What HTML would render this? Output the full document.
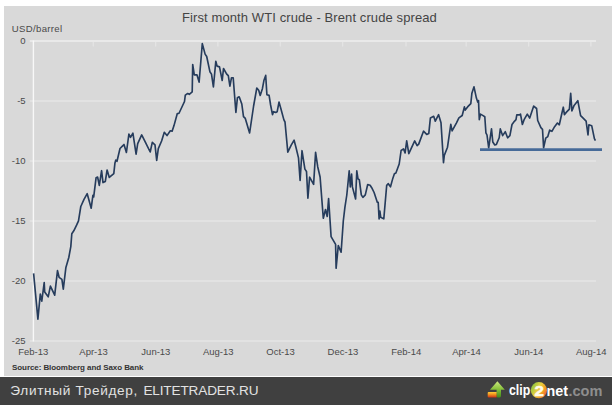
<!DOCTYPE html>
<html><head><meta charset="utf-8">
<style>
html,body{margin:0;padding:0;background:#fff;width:612px;height:405px;overflow:hidden;}
body{position:relative;font-family:"Liberation Sans",sans-serif;}
#panel{position:absolute;left:4px;top:6px;width:608px;height:370px;background:#d9d9d9;}
#foot{position:absolute;left:0;top:377px;width:612px;height:28px;background:#404040;}
svg{position:absolute;left:0;top:0;}
</style></head><body>
<div id="panel"></div>
<div id="foot"></div>
<svg width="612" height="405" viewBox="0 0 612 405">
<defs>
<linearGradient id="ga" x1="0" y1="0" x2="0" y2="1"><stop offset="0" stop-color="#cdea80"/><stop offset="0.45" stop-color="#8cc43e"/><stop offset="1" stop-color="#3f8a1a"/></linearGradient>
<linearGradient id="gb" x1="0" y1="0" x2="0" y2="1"><stop offset="0" stop-color="#ffd23a"/><stop offset="0.5" stop-color="#f08a1c"/><stop offset="1" stop-color="#c8301a"/></linearGradient>
<linearGradient id="gc" x1="0" y1="0.25" x2="1" y2="0.85"><stop offset="0" stop-color="#86c440"/><stop offset="0.4" stop-color="#e8d040"/><stop offset="0.72" stop-color="#f39a22"/><stop offset="1" stop-color="#e4485a"/></linearGradient>
</defs>
<g stroke="#e4e4e4" stroke-width="1.5" fill="none"><line x1="29.8" y1="41" x2="596" y2="41"/><line x1="29.8" y1="101" x2="596" y2="101"/><line x1="29.8" y1="161" x2="596" y2="161"/><line x1="29.8" y1="221" x2="596" y2="221"/><line x1="29.8" y1="281" x2="596" y2="281"/><line x1="29.8" y1="341" x2="596" y2="341"/></g><g stroke="#e4e4e4" stroke-width="1.3" fill="none"><line x1="93.3" y1="41" x2="93.3" y2="46.5"/><line x1="155.6" y1="41" x2="155.6" y2="46.5"/><line x1="217.9" y1="41" x2="217.9" y2="46.5"/><line x1="280.3" y1="41" x2="280.3" y2="46.5"/><line x1="342.6" y1="41" x2="342.6" y2="46.5"/><line x1="406.0" y1="41" x2="406.0" y2="46.5"/><line x1="466.2" y1="41" x2="466.2" y2="46.5"/><line x1="528.6" y1="41" x2="528.6" y2="46.5"/><line x1="590.9" y1="41" x2="590.9" y2="46.5"/></g><line x1="29.8" y1="41" x2="596" y2="41" stroke="#ebebeb" stroke-width="1.5"/><line x1="33.4" y1="40.5" x2="33.4" y2="341.5" stroke="#f8f8f8" stroke-width="1.4"/>
<g font-family="Liberation Sans" font-size="9.5" fill="#4a4a4a"><text x="33.3" y="354.6" text-anchor="middle">Feb-13</text><text x="93.6" y="354.6" text-anchor="middle">Apr-13</text><text x="155.9" y="354.6" text-anchor="middle">Jun-13</text><text x="218.2" y="354.6" text-anchor="middle">Aug-13</text><text x="280.6" y="354.6" text-anchor="middle">Oct-13</text><text x="342.9" y="354.6" text-anchor="middle">Dec-13</text><text x="406.3" y="354.6" text-anchor="middle">Feb-14</text><text x="466.5" y="354.6" text-anchor="middle">Apr-14</text><text x="528.9" y="354.6" text-anchor="middle">Jun-14</text><text x="591.2" y="354.6" text-anchor="middle">Aug-14</text><text x="25.6" y="44.1" text-anchor="end">0</text><text x="25.6" y="104.1" text-anchor="end">-5</text><text x="25.6" y="164.1" text-anchor="end">-10</text><text x="25.6" y="224.1" text-anchor="end">-15</text><text x="25.6" y="284.1" text-anchor="end">-20</text><text x="25.6" y="344.1" text-anchor="end">-25</text>
<text x="11.8" y="31.8" font-size="9.6" letter-spacing="0.32">USD/barrel</text>
</g>
<text x="182" y="22.2" font-family="Liberation Sans" font-size="13" letter-spacing="0.1" fill="#444">First month WTI crude - Brent crude spread</text>
<text x="12" y="370.4" font-family="Liberation Sans" font-size="8" font-weight="bold" fill="#333" textLength="131.5" lengthAdjust="spacing">Source: Bloomberg and Saxo Bank</text>
<path d="M33.6 273.4 L37.9 319.1 L40.3 294.0 L41.8 301.2 L44.2 282.5 L44.7 292.0 L48.2 296.8 L50.4 286.1 L54.7 295.2 L57.5 270.6 L59.1 277.3 L61.9 279.3 L63.3 289.2 L65.9 267.4 L68.8 257.5 L70.8 246.6 L71.8 233.8 L73.8 230.8 L76.7 224.9 L78.5 220.8 L80.8 206.5 L84.0 199.3 L87.2 193.7 L91.2 208.2 L92.9 195.3 L93.7 196.9 L96.1 177.7 L97.6 177.0 L99.3 185.4 L101.6 170.7 L103.0 182.6 L105.3 181.5 L107.1 170.0 L109.3 177.4 L113.8 173.7 L114.9 163.3 L115.8 160.0 L117.0 161.3 L120.0 148.5 L122.4 146.1 L124.0 144.5 L126.4 152.5 L128.9 134.0 L130.5 137.3 L132.9 133.2 L136.1 154.1 L137.7 143.7 L141.7 134.9 L145.7 142.9 L150.2 152.0 L152.3 142.3 L155.0 144.8 L156.7 160.5 L158.3 148.6 L161.6 141.0 L164.3 132.3 L167.0 135.6 L170.3 130.8 L172.1 131.2 L174.0 125.6 L177.3 113.5 L178.9 113.5 L184.5 101.5 L185.3 95.1 L187.7 93.5 L189.3 94.3 L192.2 91.9 L192.7 64.5 L194.3 74.9 L197.0 74.9 L199.1 82.1 L202.3 43.6 L205.1 54.1 L206.7 56.5 L209.9 71.7 L211.5 74.1 L213.4 87.0 L215.8 61.3 L217.1 66.1 L219.5 66.9 L222.2 80.5 L223.5 68.5 L226.7 74.1 L228.3 75.7 L229.9 86.2 L231.5 77.7 L233.2 77.7 L235.9 112.5 L237.4 97.8 L239.2 96.8 L241.8 104.0 L243.5 116.6 L245.3 118.4 L249.6 133.0 L253.6 106.0 L256.8 88.0 L258.7 90.2 L260.2 95.4 L262.4 88.7 L263.9 80.6 L265.7 75.4 L266.9 94.7 L269.1 95.4 L270.6 105.0 L272.5 114.7 L273.5 111.7 L275.7 112.4 L277.2 111.7 L279.0 102.1 L280.9 108.7 L283.9 119.9 L285.0 122.0 L287.8 152.2 L291.2 145.1 L294.1 140.2 L296.0 147.5 L298.5 157.9 L300.1 180.4 L302.0 150.7 L304.9 169.1 L306.5 171.5 L307.9 198.1 L309.6 177.2 L313.6 184.4 L315.6 152.3 L317.7 166.7 L320.1 177.0 L323.3 218.2 L325.5 209.5 L327.2 216.5 L328.6 198.5 L331.1 236.7 L335.6 244.4 L336.1 268.3 L338.3 245.6 L341.1 252.2 L343.3 221.0 L344.9 207.4 L346.8 195.0 L349.2 170.9 L350.3 186.9 L351.6 174.1 L352.4 186.9 L355.6 199.0 L356.8 170.9 L358.0 178.9 L359.3 179.7 L361.3 194.9 L362.9 197.4 L365.3 194.9 L367.7 184.5 L370.1 185.3 L371.7 187.7 L374.1 192.5 L377.3 202.2 L378.2 202.2 L379.1 218.9 L379.9 211.1 L380.7 217.2 L383.8 218.9 L386.7 185.3 L388.3 183.7 L390.5 186.8 L392.8 178.4 L394.4 173.8 L395.9 173.0 L399.2 164.0 L401.1 150.5 L403.5 148.9 L405.1 152.9 L406.7 140.9 L408.8 153.7 L414.7 140.9 L417.1 145.7 L418.7 144.1 L423.5 131.2 L426.7 134.4 L428.8 133.4 L430.4 117.9 L433.7 116.3 L435.3 121.2 L438.6 114.7 L441.0 122.8 L443.5 162.7 L444.3 155.4 L447.5 147.2 L450.8 124.4 L452.1 130.9 L456.5 122.8 L458.9 117.9 L462.2 115.5 L464.4 106.9 L465.2 110.1 L467.6 106.9 L470.8 103.7 L471.9 93.2 L474.0 86.8 L476.4 98.1 L477.7 102.1 L478.5 100.5 L479.3 119.7 L480.5 114.1 L483.1 115.6 L484.8 116.7 L485.9 132.8 L487.0 135.0 L488.7 147.8 L491.5 128.8 L492.8 142.0 L494.8 145.0 L496.4 144.4 L499.2 137.8 L500.3 128.9 L502.6 135.6 L505.3 131.7 L507.6 137.8 L509.9 135.7 L512.0 124.5 L514.4 121.3 L516.0 119.7 L516.8 114.9 L519.6 114.9 L520.5 114.1 L522.4 124.5 L524.1 119.7 L527.3 114.1 L529.7 118.1 L533.7 106.1 L536.6 108.5 L537.7 120.5 L540.9 127.7 L542.5 129.3 L543.6 147.8 L545.7 138.2 L547.8 136.6 L549.7 130.1 L551.9 131.3 L554.6 126.7 L557.4 123.0 L559.3 124.8 L562.0 112.8 L563.3 107.2 L564.4 114.6 L566.7 111.9 L569.4 109.1 L570.7 93.3 L571.9 110.9 L574.1 105.4 L577.8 100.7 L580.6 115.6 L582.4 117.4 L586.1 121.1 L588.0 135.0 L588.9 124.8 L591.7 125.7 L594.4 138.7 L595.4 140.6" fill="none" stroke="#263c5c" stroke-width="1.65" stroke-linejoin="round"/>
<line x1="480" y1="149.6" x2="602" y2="149.6" stroke="#466a98" stroke-width="2.6"/>
<g font-family="Liberation Sans" font-size="13.6" fill="#e2e2e2"><text x="10.3" y="395.1" textLength="127" lengthAdjust="spacing">Элитный Трейдер,</text><text x="143.4" y="395.1" textLength="115.1" lengthAdjust="spacing">ELITETRADER.RU</text></g>
<g>
<polygon points="497.4,381.3 504.8,389.7 501,389.7 501,396.6 500,397.6 497.5,397.6 496.6,396.8 496.6,389.7 490,389.7" fill="url(#ga)"/>
<path d="M488.6,391.9 H496.6 V397.6 H488.6 Q487.7,397.6 487.7,396.6 V392.9 Q487.7,391.9 488.6,391.9 Z" fill="url(#gb)"/>
<text x="508.9" y="395" font-family="Liberation Sans" font-size="15" font-weight="bold" fill="#fff" textLength="21.3" lengthAdjust="spacingAndGlyphs">clip</text>
<circle cx="538.9" cy="390.2" r="8.1" fill="url(#gc)"/>
<text x="539.1" y="395.7" text-anchor="middle" font-family="Liberation Sans" font-size="14.5" font-weight="bold" fill="#fffbe8" stroke="#fffbe8" stroke-width="0.5" textLength="9.4" lengthAdjust="spacingAndGlyphs">2</text>
<text x="546.5" y="395.5" font-family="Liberation Sans" font-size="15.5" font-weight="bold" fill="#fff" textLength="21.5" lengthAdjust="spacingAndGlyphs">net</text>
<text x="568.4" y="395.5" font-family="Liberation Sans" font-size="15.5" font-weight="bold" fill="#8e8e8e" textLength="34" lengthAdjust="spacingAndGlyphs">.com</text>
</g>
</svg>
</body></html>
